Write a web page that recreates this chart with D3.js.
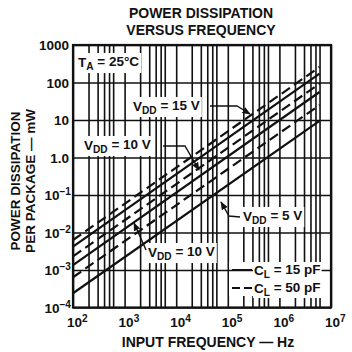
<!DOCTYPE html>
<html>
<head>
<meta charset="utf-8">
<script src="https://cdn.jsdelivr.net/npm/d3@7"></script>
<style>
  html, body { margin: 0; padding: 0; background: #fff; }
  svg { display: block; }
  text { font-family: "Liberation Sans", Arial, sans-serif; font-weight: bold; fill: #111; }
</style>
</head>
<body>
<svg id="chart" width="352" height="352"></svg>
<script>
// Frequency span of each plotted line (Hz)
const lineFreqs = [1e2, 6e6];

// Power dissipation per package (mW) at the two ends of each line
const v15c50 = [6.3e-3, 259];
const v15c15 = [4.2e-3, 172];
const v10c50 = [2.3e-3, 93];
const v10c15 = [1.35e-3, 55.8];
const v5c50  = [6.4e-4, 25];
const v5c15  = [2.4e-4, 9.5];

const seriesNames = ["VDD 15 V, 50 pF", "VDD 15 V, 15 pF", "VDD 10 V, 50 pF",
                     "VDD 10 V, 15 pF", "VDD 5 V, 50 pF", "VDD 5 V, 15 pF"];
const seriesLoads = [50, 15, 50, 15, 50, 15];
const seriesValues = [v15c50, v15c15, v10c50, v10c15, v5c50, v5c15];

// Axis ticks
const xDecades = [1e2, 1e3, 1e4, 1e5, 1e6, 1e7];
const xTickExp = ["2", "3", "4", "5", "6", "7"];
const xMinorMult = [2, 3, 4, 5, 6];
const yDecades = [1e3, 1e2, 1e1, 1, 1e-1, 1e-2, 1e-3, 1e-4];
const yTickBase = ["1000", "100", "10", "1.0", "10", "10", "10", "10"];
const yTickExp  = ["", "", "", "", "\u22121", "\u22122", "\u22123", "\u22124"];

const svg = d3.select("#chart");
const plot = { left: 73, right: 331, top: 45, bottom: 307.5 };
const ink = "#111";

const x = d3.scaleLog().domain([1e2, 1e7]).range([plot.left, plot.right]);
const y = d3.scaleLog().domain([1e-4, 1e3]).range([plot.bottom, plot.top]);

// vertical grid: decades plus minor lines in every decade
const xGrid = [];
xDecades.forEach((d, i) => {
  xGrid.push(d);
  if (i < xDecades.length - 1) xMinorMult.forEach(m => xGrid.push(d * m));
});

const gV = svg.append("g")
  .attr("transform", `translate(0,${plot.bottom})`)
  .call(d3.axisBottom(x).tickValues(xGrid).tickSize(-(plot.bottom - plot.top)).tickFormat(""));
gV.select(".domain").remove();
gV.selectAll("line").attr("stroke", ink).attr("stroke-width", 1.6);

// white panels that interrupt the vertical grid behind the text blocks
const layer = svg.append("g");

const gH = svg.append("g")
  .attr("transform", `translate(${plot.left},0)`)
  .call(d3.axisLeft(y).tickValues(yDecades).tickSize(-(plot.right - plot.left)).tickFormat(""));
gH.select(".domain").remove();
gH.selectAll("line").attr("stroke", ink).attr("stroke-width", 1.7);

// data lines
const line = d3.line().x(d => x(d[0])).y(d => y(d[1]));
svg.append("g").selectAll("path")
  .data(seriesValues.map((v, i) => ({ name: seriesNames[i], load: seriesLoads[i],
        pts: lineFreqs.map((f, j) => [f, v[j]]) })))
  .join("path")
  .attr("d", d => line(d.pts))
  .attr("fill", "none")
  .attr("stroke", ink)
  .attr("stroke-width", 2.2)
  .attr("stroke-dasharray", d => d.load === 50 ? "10,5" : null);

// frame
svg.append("rect")
  .attr("x", plot.left).attr("y", plot.top)
  .attr("width", plot.right - plot.left).attr("height", plot.bottom - plot.top)
  .attr("fill", "none").attr("stroke", ink).attr("stroke-width", 2.2);

// helper: text with a subscript or superscript part
function richText(g, parts, attrs) {
  const t = g.append("text");
  Object.entries(attrs).forEach(([k, v]) => t.attr(k, v));
  parts.forEach(p => {
    const s = t.append("tspan").text(p.t);
    if (p.sub) s.attr("font-size", "0.75em").attr("dy", "0.3em");
    if (p.sup) s.attr("font-size", "0.75em").attr("dy", "-0.45em");
    if (p.back) s.attr("dy", p.back);
  });
  return t;
}

function knockout(t, pad) {
  const b = t.node().getBBox();
  const r = t.node().parentNode.insertBefore(document.createElementNS("http://www.w3.org/2000/svg", "rect"), t.node());
  d3.select(r).attr("x", b.x - pad).attr("y", b.y - pad + 1)
    .attr("width", b.width + 2 * pad).attr("height", b.height + 2 * pad - 2).attr("fill", "#fff");
}

const ann = svg.append("g");

// arrowhead marker
svg.append("defs").append("marker")
  .attr("id", "arrow").attr("viewBox", "0 0 10 10").attr("refX", 9).attr("refY", 5)
  .attr("markerWidth", 6).attr("markerHeight", 6).attr("orient", "auto-start-reverse")
  .append("path").attr("d", "M0,1 L10,5 L0,9 Z").attr("fill", ink);

function leader(pts) {
  ann.append("path").attr("d", d3.line()(pts))
    .attr("fill", "none").attr("stroke", ink).attr("stroke-width", 1.4)
    .attr("marker-end", "url(#arrow)");
}

const fs = 13.5;
const labels = [
  { parts: [{ t: "T" }, { t: "A", sub: true }, { t: " = 25°C", back: "-0.3em" }], x: 78, y: 67 },
  { parts: [{ t: "V" }, { t: "DD", sub: true }, { t: " = 15 V", back: "-0.3em" }], x: 133, y: 111 },
  { parts: [{ t: "V" }, { t: "DD", sub: true }, { t: " = 10 V", back: "-0.3em" }], x: 84, y: 150 },
  { parts: [{ t: "V" }, { t: "DD", sub: true }, { t: " = 5 V", back: "-0.3em" }], x: 243, y: 221 },
  { parts: [{ t: "V" }, { t: "DD", sub: true }, { t: " = 10 V", back: "-0.3em" }], x: 148, y: 257 }
];
labels.forEach(l => {
  const t = richText(ann, l.parts, { x: l.x, y: l.y, "font-size": fs });
  knockout(t, 2);
});

leader([[210, 106], [237, 106], [250, 114]]);
leader([[163, 146], [185, 146], [199, 170]]);
leader([[240, 217], [229, 216], [221, 202]]);
leader([[146, 250], [134, 223]]);

// legend panel blocks the vertical grid only
layer.append("rect").attr("x", 229).attr("y", 262).attr("width", 91).attr("height", 34).attr("fill", "#fff");
const legend = svg.append("g");
[{ load: 15, yy: 270 }, { load: 50, yy: 288 }].forEach(e => {
  legend.append("line").attr("x1", 232).attr("x2", 252).attr("y1", e.yy).attr("y2", e.yy)
    .attr("stroke", ink).attr("stroke-width", 2)
    .attr("stroke-dasharray", e.load === 50 ? "8,4" : null);
  const t = richText(legend, [{ t: "C" }, { t: "L", sub: true }, { t: ` = ${e.load} pF`, back: "-0.3em" }],
    { x: 254, y: e.yy + 5, "font-size": fs });
  knockout(t, 1);
});

// y tick labels
yDecades.forEach((d, i) => {
  const parts = [{ t: yTickBase[i] }];
  if (yTickExp[i]) parts.push({ t: yTickExp[i], sup: true });
  richText(svg, parts, { x: yTickExp[i] ? 71 : 69, y: y(d) + 5, "font-size": fs, "text-anchor": "end" });
});

// x tick labels
xDecades.forEach((d, i) => {
  richText(svg, [{ t: "10" }, { t: xTickExp[i], sup: true }],
    { x: x(d) - 6, y: 327, "font-size": fs });
});

// titles
const tfs = 14;
svg.append("text").attr("x", 201).attr("y", 18).attr("text-anchor", "middle").attr("font-size", tfs).text("POWER DISSIPATION");
svg.append("text").attr("x", 201).attr("y", 35).attr("text-anchor", "middle").attr("font-size", tfs).text("VERSUS FREQUENCY");
svg.append("text").attr("x", 208).attr("y", 347).attr("text-anchor", "middle").attr("font-size", tfs).text("INPUT FREQUENCY \u2014 Hz");
svg.append("text").attr("transform", "translate(20,181) rotate(-90)").attr("text-anchor", "middle").attr("font-size", fs).text("POWER DISSIPATION");
svg.append("text").attr("transform", "translate(35,181) rotate(-90)").attr("text-anchor", "middle").attr("font-size", fs).text("PER PACKAGE \u2014 mW");
</script>
</body>
</html>
